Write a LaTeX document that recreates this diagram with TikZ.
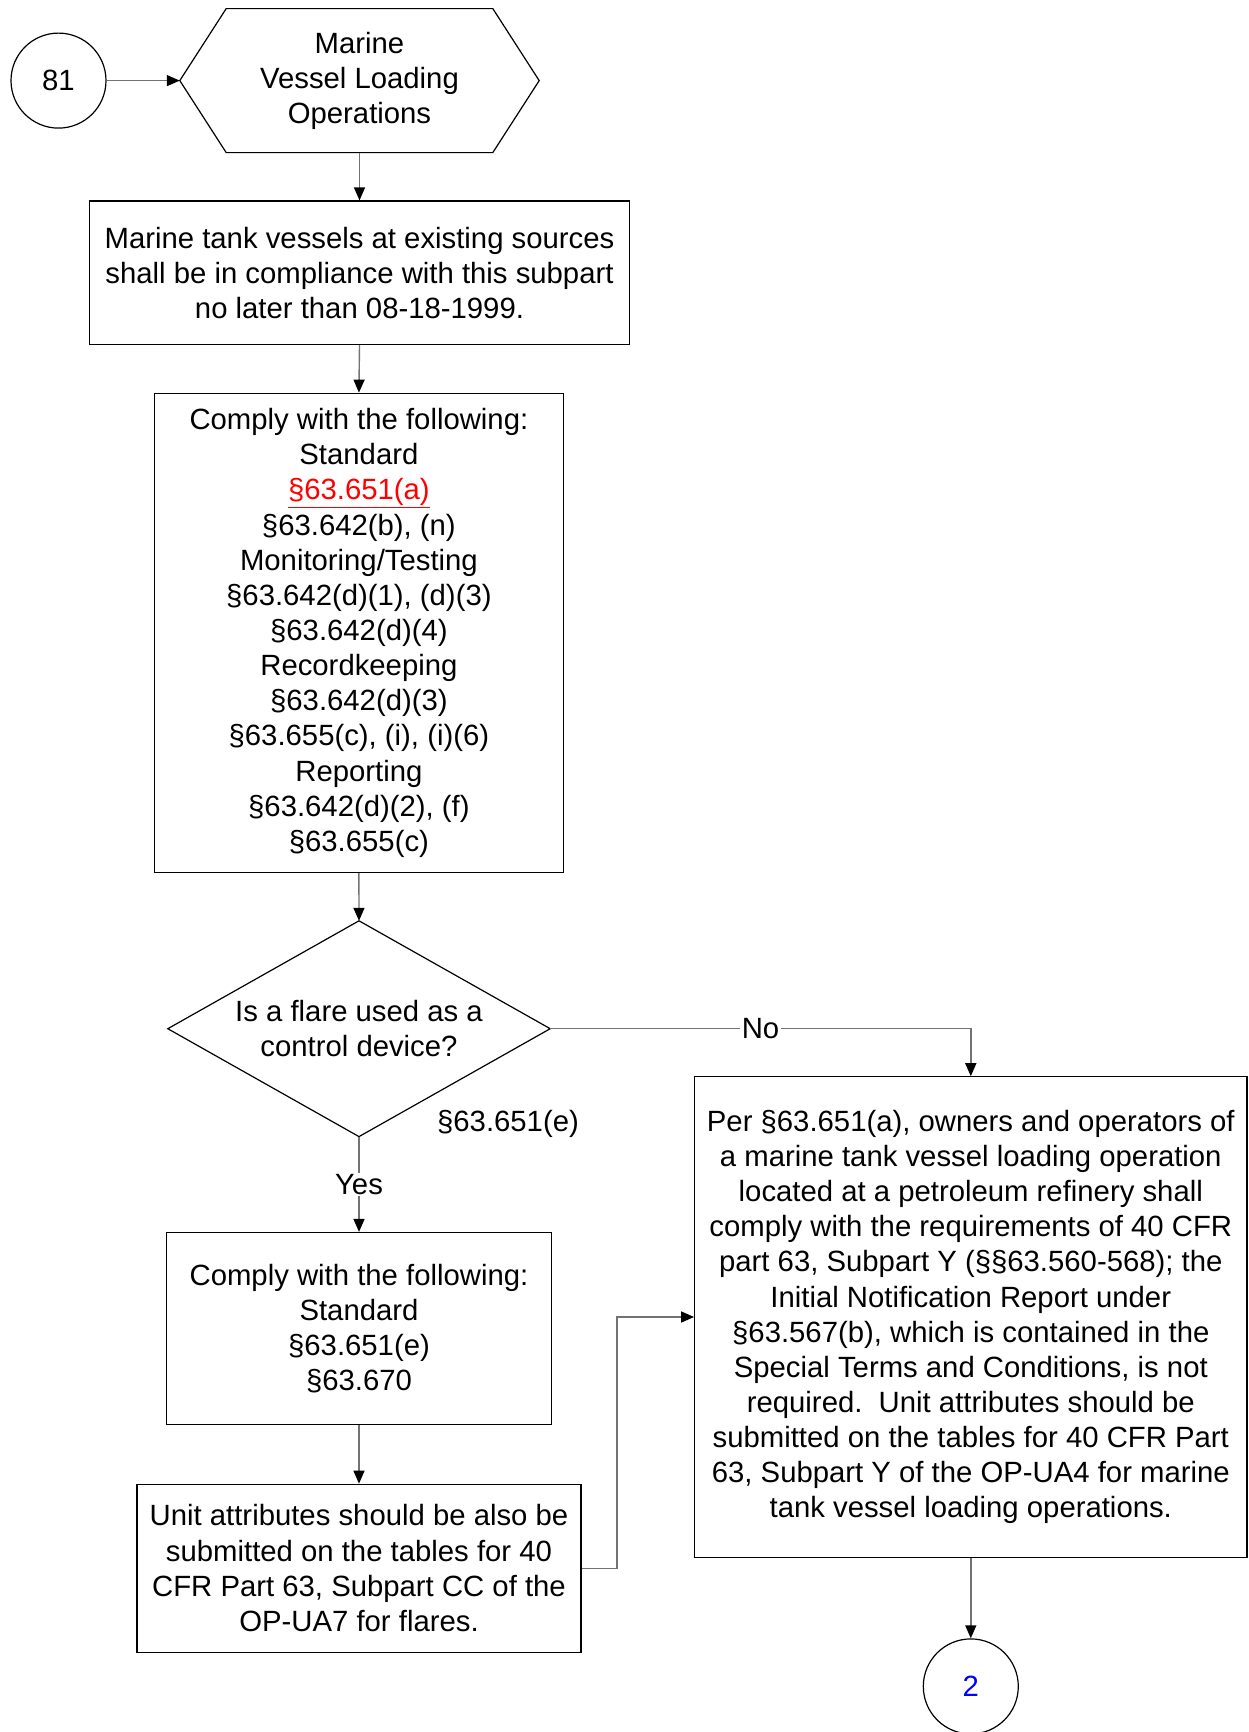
\documentclass[tikz,border=0pt]{standalone}
\usepackage{fontspec}
\setmainfont{Liberation Sans}
\usetikzlibrary{arrows.meta}
\begin{document}
\begin{tikzpicture}[x=1pt,y=-1pt,
  every node/.style={font=\fontsize{29.3}{35.15}\selectfont},
  box/.style={draw=black, line width=1.2pt, align=center, inner sep=0pt},
  shapeonly/.style={align=center, inner sep=0pt},
  circ/.style={draw=black, line width=1.2pt, circle, minimum size=95pt, inner sep=0pt},
  conn/.style={draw=black!55, line width=1.4pt, -{Triangle[length=13pt,width=11pt,color=black]}},
  lbl/.style={fill=white, inner sep=1.5pt}
]
\useasboundingbox (0,0) rectangle (1248,1732);

\node[circ] (c81) at (58.5,80.6) {81};
\node[shapeonly, minimum width=359pt, minimum height=143.6pt] (hex) at (359.5,80.6) {Marine\\Vessel Loading\\Operations};
\draw[line width=1.2pt] ([xshift=46.4pt]hex.north west) -- ([xshift=-46.4pt]hex.north east) -- (hex.east)
  -- ([xshift=-46.4pt]hex.south east) -- ([xshift=46.4pt]hex.south west) -- (hex.west) -- cycle;

\node[box, minimum width=540pt, minimum height=143.6pt] (b1) at (359.5,272.8)
  {Marine tank vessels at existing sources\\shall be in compliance with this subpart\\no later than 08-18-1999.};

\node[box, minimum width=408.6pt, minimum height=479.3pt] (b2) at (358.9,632.9)
  {Comply with the following:\\Standard\\\textcolor{red}{\underline{§63.651(a)}}\\§63.642(b), (n)\\Monitoring/Testing\\§63.642(d)(1), (d)(3)\\§63.642(d)(4)\\Recordkeeping\\§63.642(d)(3)\\§63.655(c), (i), (i)(6)\\Reporting\\§63.642(d)(2), (f)\\§63.655(c)};

\node[shapeonly, minimum width=382pt, minimum height=215.4pt] (dia) at (359,1028.7)
  {Is a flare used as a\\control device?};
\draw[line width=1.2pt] (dia.north) -- (dia.east) -- (dia.south) -- (dia.west) -- cycle;

\node[inner sep=0pt] (cite) at (508,1124.3) {§63.651(e)};

\node[box, minimum width=552.2pt, minimum height=480.4pt] (rb) at (970.8,1317)
  {Per §63.651(a), owners and operators of\\a marine tank vessel loading operation\\located at a petroleum refinery shall\\comply with the requirements of 40 CFR\\part 63, Subpart Y (§§63.560-568); the\\Initial Notification Report under\\§63.567(b), which is contained in the\\Special Terms and Conditions, is not\\required.\ \ Unit attributes should be\\submitted on the tables for 40 CFR Part\\63, Subpart Y of the OP-UA4 for marine\\tank vessel loading operations.};

\node[box, minimum width=384.3pt, minimum height=192.2pt] (b3) at (359,1328.6)
  {Comply with the following:\\Standard\\§63.651(e)\\§63.670};

\node[box, minimum width=444pt, minimum height=167.9pt] (b4) at (359,1568.2)
  {Unit attributes should be also be\\submitted on the tables for 40\\CFR Part 63, Subpart CC of the\\OP-UA7 for flares.};

\node[circ] (c2) at (970.8,1686.4) {\textcolor{blue}{2}};

\draw[conn] (c81) -- (hex.west);
\draw[conn] (hex.south) -- (b1.north);
\draw[conn] (b1.south) -- (b2.north);
\draw[conn] (b2.south) -- (dia.north);
\draw[conn] (dia.east) -| node[lbl, pos=0.25] {No} (rb.north);
\draw[conn] (dia.south) -- node[lbl] {Yes} (b3.north);
\draw[conn] (b3.south) -- (b4.north);
\draw[conn] (b4.east) -- ++(35.3,0) |- (rb.west);
\draw[conn] (rb.south) -- (c2.north);
\end{tikzpicture}
\end{document}
